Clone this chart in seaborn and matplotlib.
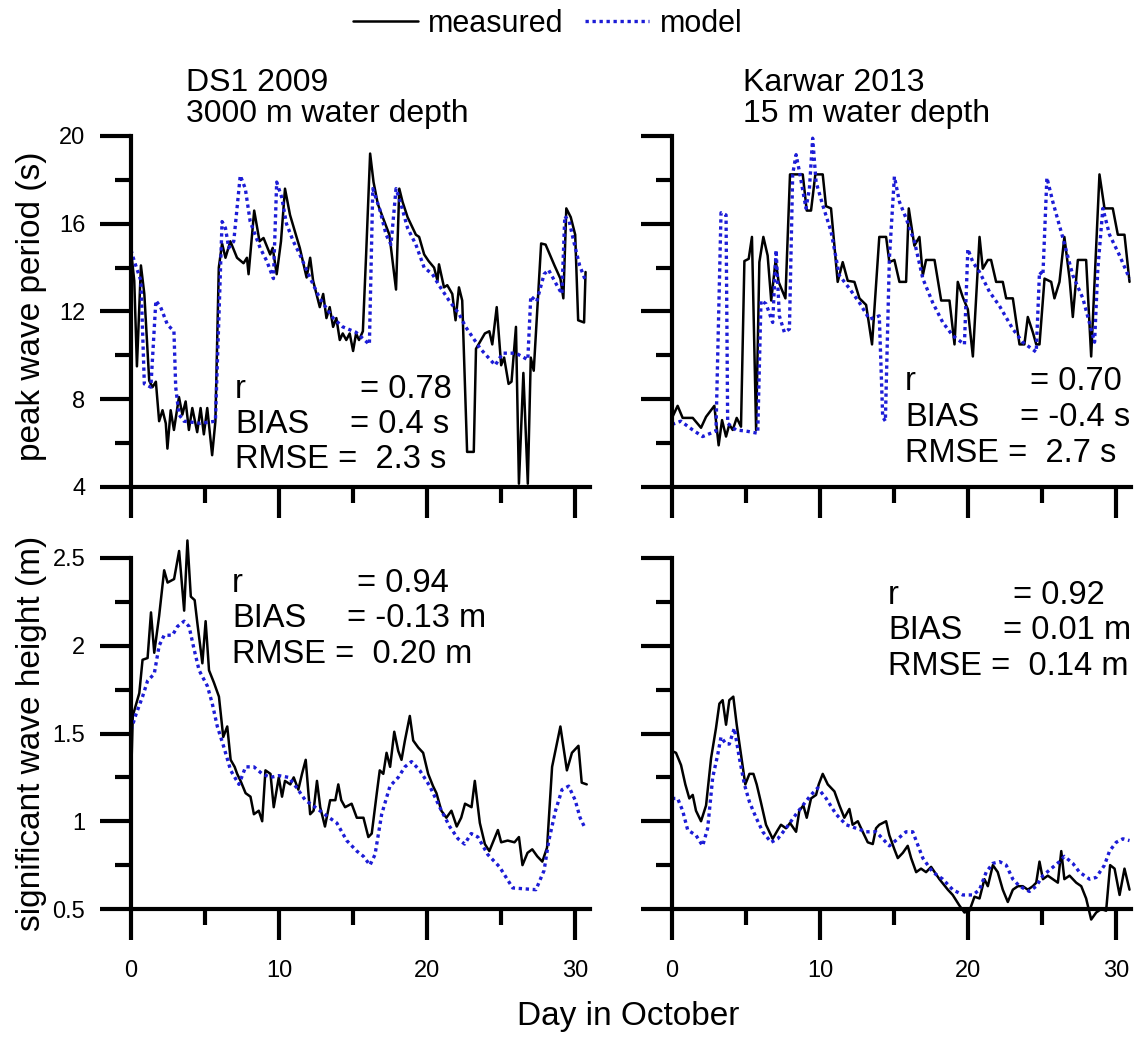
import pandas as pd
import seaborn as sns
import matplotlib.pyplot as plt
from matplotlib.ticker import MultipleLocator, FormatStrFormatter
from matplotlib.lines import Line2D

# ---- data ----
# DS1 2009, peak wave period (s)
ds1_tp_meas_days = [0.0, 0.22, 0.40, 0.56, 0.67, 0.9, 1.23, 1.45, 1.68, 1.9, 2.13, 2.35, 2.46, 2.68, 2.9,
                    3.24, 3.47, 3.69, 3.91, 4.14, 4.47, 4.7, 4.92, 5.15, 5.48, 5.7, 5.93, 6.15, 6.38, 6.71,
                    7.16, 7.6, 7.83, 7.94, 8.32, 8.68, 8.95, 9.4, 9.57, 9.84, 10.13, 10.4, 10.74, 11.2, 11.4,
                    11.86, 12.1, 12.3, 12.75, 12.98, 13.2, 13.42, 13.65, 13.87, 14.1, 14.3, 14.54, 14.77, 15.0,
                    15.2, 15.4, 15.66, 15.88, 16.15, 16.38, 16.67, 17.0, 17.45, 17.9, 18.12, 18.34, 18.68,
                    19.24, 19.46, 19.8, 20.1, 20.47, 20.7, 20.8, 21.14, 21.36, 21.7, 21.92, 22.15, 22.37,
                    22.7, 23.15, 23.3, 23.9, 24.2, 24.4, 24.7, 25.0, 25.2, 25.5, 25.7, 26.0, 26.2, 26.5,
                    26.8, 27.0, 27.2, 27.7, 28.0, 28.6, 29.0, 29.2, 29.4, 29.7, 30.0, 30.2, 30.6, 30.7]
ds1_tp_meas = [14.8, 13.4, 9.5, 12.2, 14.1, 12.8, 8.85, 8.55, 8.8, 7.0, 7.5, 6.9, 5.75, 7.5, 6.6,
               8.1, 7.3, 7.9, 6.6, 7.6, 6.5, 7.6, 6.4, 7.6, 5.45, 7.0, 14.0, 15.1, 14.45, 15.2,
               14.45, 14.2, 14.45, 13.7, 16.6, 15.2, 15.35, 14.6, 14.9, 13.7, 15.2, 17.6, 16.4, 15.35, 14.9,
               13.55, 14.45, 13.4, 12.2, 12.8, 11.7, 12.2, 11.3, 11.7, 10.7, 11.0, 10.7, 11.0, 10.2,
               11.0, 10.7, 11.1, 14.6, 19.2, 17.9, 16.9, 16.3, 15.5, 13.0, 17.6, 17.0, 16.3,
               15.5, 15.4, 14.6, 14.3, 14.0, 13.4, 14.15, 13.1, 13.2, 12.8, 11.6, 13.1, 12.5,
               5.6, 5.6, 10.3, 11.0, 11.1, 10.5, 12.2, 9.55, 9.9, 8.7, 8.8, 11.3, 4.15, 9.2,
               4.15, 9.9, 9.3, 15.1, 15.05, 14.1, 13.5, 12.6, 16.7, 16.3, 15.5, 11.6, 11.5, 13.8]
ds1_tp_model_days = [0.0, 0.22, 0.67, 0.9, 1.34, 1.68, 2.0, 2.46, 2.9, 3.02, 3.24, 3.58, 4.7, 5.7, 5.93,
                     6.15, 6.38, 6.6, 6.94, 7.38, 7.72, 8.05, 8.72, 9.17, 9.62, 9.84, 10.18, 10.5, 10.96,
                     11.4, 12.08, 12.75, 13.65, 14.3, 15.2, 16.1, 16.33, 16.78, 17.23, 17.56, 17.9, 18.23,
                     18.68, 19.24, 19.8, 20.36, 20.8, 21.48, 22.15, 22.6, 23.6, 24.6, 25.1, 26.0, 26.8,
                     27.0, 27.4, 27.9, 28.2, 28.8, 29.1, 29.3, 29.6, 29.9, 30.3, 30.7]
ds1_tp_model = [14.8, 14.3, 13.4, 8.7, 8.55, 12.5, 12.2, 11.4, 11.1, 8.55, 7.3, 7.0, 6.9, 7.0, 11.6,
                16.1, 15.8, 14.9, 15.2, 18.2, 17.6, 16.1, 14.9, 14.3, 13.5, 17.9, 17.2, 16.0, 15.2,
                14.6, 13.55, 12.6, 11.7, 11.3, 11.05, 10.5, 17.6, 16.7, 15.5, 15.05, 17.6, 16.9,
                15.8, 15.05, 14.0, 13.7, 13.2, 12.5, 11.9, 11.3, 10.3, 9.55, 10.1, 10.1, 9.8,
                12.7, 12.45, 13.7, 13.9, 13.15, 12.8, 16.35, 16.1, 15.2, 14.1, 13.4]

# Karwar 2013, peak wave period (s)
kar_tp_meas_days = [0.0, 0.38, 0.72, 1.4, 1.96, 2.3, 2.86, 3.15, 3.38, 3.65, 3.87, 4.1, 4.37, 4.66, 4.89,
                    5.18, 5.4, 5.68, 5.9, 6.17, 6.46, 6.7, 7.0, 7.2, 7.66, 7.97, 8.83, 9.1, 9.39, 9.68,
                    10.18, 10.4, 10.74, 11.19, 11.53, 11.87, 12.32, 12.66, 13.11, 13.51, 14.0, 14.46,
                    14.68, 15.02, 15.36, 15.81, 15.99, 16.37, 16.71, 16.94, 17.16, 17.73, 18.18, 18.74,
                    19.08, 19.3, 19.64, 19.98, 20.32, 20.77, 20.99, 21.33, 21.55, 21.89, 22.34, 22.57,
                    23.02, 23.47, 23.8, 24.03, 24.37, 24.6, 24.82, 25.16, 25.61, 25.83, 26.17, 26.5,
                    26.85, 27.07, 27.41, 27.97, 28.31, 28.87, 29.21, 29.77, 30.11, 30.56, 30.9]
kar_tp_meas = [7.15, 7.7, 7.15, 7.15, 6.7, 7.2, 7.7, 5.9, 7.05, 6.3, 6.85, 6.6, 7.15, 6.75, 14.3,
               14.4, 15.4, 6.6, 14.25, 15.4, 14.55, 12.5, 14.35, 13.35, 12.6, 18.25, 18.25, 16.6, 16.6, 18.25,
               18.25, 16.8, 16.7, 13.35, 14.25, 13.4, 13.35, 12.6, 12.3, 10.5, 15.4, 15.4,
               14.25, 14.35, 13.35, 13.35, 16.7, 15.0, 15.4, 13.65, 14.35, 14.35, 12.5, 12.5,
               10.5, 13.35, 12.65, 12.1, 9.95, 15.4, 13.95, 14.35, 14.35, 13.35, 13.35, 12.6,
               12.6, 10.5, 10.5, 11.75, 11.05, 10.5, 10.5, 13.5, 13.35, 12.6, 13.35, 15.4,
               13.5, 11.75, 14.35, 14.35, 9.95, 18.25, 16.7, 16.7, 15.5, 15.5, 13.35]
kar_tp_model_days = [0.0, 0.6, 1.4, 2.07, 2.97, 3.31, 3.65, 3.76, 4.32, 5.0, 5.79, 6.01, 6.35, 6.8, 7.03,
                     7.25, 7.59, 7.93, 8.15, 8.38, 8.6, 9.05, 9.28, 9.5, 9.73, 10.18, 10.74, 11.3, 11.98,
                     12.66, 13.33, 14.0, 14.23, 14.41, 14.68, 15.02, 15.36, 15.81, 16.37, 16.94, 17.61,
                     18.29, 18.96, 19.75, 19.98, 20.32, 20.77, 21.44, 22.12, 23.02, 23.69, 24.6, 24.82,
                     25.05, 25.32, 25.72, 26.4, 27.07, 27.75, 28.54, 28.76, 29.1, 29.55, 30.23, 30.9]
kar_tp_model = [6.85, 7.0, 6.6, 6.3, 6.55, 16.5, 16.4, 6.9, 6.6, 6.55, 6.45, 12.5, 12.35, 11.5, 14.8,
                11.8, 11.05, 11.2, 18.25, 19.15, 18.4, 16.7, 17.6, 19.9, 17.9, 16.85, 15.65, 13.65, 13.05,
                12.4, 11.65, 11.8, 7.2, 7.0, 14.4, 18.15, 17.0, 16.25, 15.2, 13.5, 12.4,
                11.5, 10.9, 10.5, 14.85, 14.25, 13.8, 12.9, 12.25, 11.2, 10.6, 10.15, 13.8,
                13.65, 18.1, 17.0, 15.35, 13.65, 12.6, 10.6, 13.95, 16.7, 15.5, 14.55, 13.5]

# DS1 2009, significant wave height (m)
ds1_hs_meas_days = [0.0, 0.12, 0.22, 0.56, 0.78, 1.12, 1.35, 1.57, 1.9, 2.24, 2.47, 2.91, 3.25, 3.59, 3.81,
                    4.04, 4.3, 4.48, 4.82, 5.04, 5.27, 5.6, 5.94, 6.23, 6.5, 6.73, 7.0, 7.17, 7.4, 7.74,
                    8.07, 8.3, 8.63, 8.86, 9.08, 9.42, 9.64, 9.98, 10.2, 10.4, 10.76, 10.99, 11.3, 11.55,
                    11.8, 12.1, 12.33, 12.56, 12.78, 13.1, 13.45, 13.8, 14.0, 14.2, 14.46, 14.9, 15.25,
                    15.7, 16.03, 16.26, 16.6, 16.8, 17.04, 17.26, 17.5, 17.78, 18.05, 18.27, 18.5, 18.83,
                    19.06, 19.4, 19.73, 20.07, 20.4, 20.63, 20.96, 21.3, 21.64, 22.0, 22.3, 22.56, 23.0,
                    23.22, 23.56, 23.9, 24.2, 24.78, 25.0, 25.44, 25.9, 26.2, 26.44, 26.78, 27.1, 27.44,
                    27.78, 28.1, 28.44, 29.0, 29.44, 29.78, 30.22, 30.44, 30.78]
ds1_hs_meas = [1.22, 1.6, 1.63, 1.73, 1.92, 1.93, 2.19, 1.96, 2.17, 2.43, 2.36, 2.38, 2.54, 2.2, 2.6,
               2.28, 2.26, 2.13, 1.9, 2.14, 1.86, 1.79, 1.71, 1.48, 1.54, 1.35, 1.31, 1.27, 1.23, 1.16,
               1.14, 1.04, 1.06, 1.0, 1.29, 1.27, 1.08, 1.25, 1.14, 1.23, 1.21, 1.25, 1.18, 1.27,
               1.35, 1.04, 1.06, 1.23, 1.08, 0.97, 1.12, 1.12, 1.21, 1.12, 1.08, 1.1, 1.02,
               1.02, 0.91, 0.93, 1.16, 1.29, 1.27, 1.39, 1.31, 1.51, 1.4, 1.35, 1.46, 1.6,
               1.46, 1.42, 1.39, 1.27, 1.2, 1.16, 1.06, 1.02, 1.06, 0.97, 1.02, 1.1, 1.08,
               1.23, 0.99, 0.87, 0.83, 0.95, 0.88, 0.89, 0.88, 0.91, 0.75, 0.82, 0.84, 0.8,
               0.77, 0.85, 1.31, 1.54, 1.29, 1.39, 1.43, 1.22, 1.21]
ds1_hs_model_days = [0.0, 0.34, 0.78, 1.12, 1.57, 1.9, 2.24, 2.8, 3.14, 3.59, 3.92, 4.26, 4.6, 5.16, 5.49,
                     5.83, 6.28, 6.73, 7.29, 7.74, 8.3, 8.86, 9.42, 9.98, 10.65, 11.2, 11.77, 12.44,
                     13.23, 13.9, 14.57, 15.25, 15.7, 16.14, 16.48, 16.93, 17.49, 18.05, 18.5, 18.95,
                     19.5, 20.18, 20.85, 21.52, 22.09, 22.53, 22.98, 23.43, 24.1, 24.89, 25.78, 27.35,
                     27.9, 28.22, 28.67, 29.11, 29.56, 30.0, 30.33, 30.67]
ds1_hs_model = [1.52, 1.61, 1.71, 1.8, 1.84, 2.0, 2.06, 2.06, 2.11, 2.14, 2.11, 1.98, 1.86, 1.77, 1.67,
                1.54, 1.42, 1.29, 1.21, 1.31, 1.31, 1.27, 1.25, 1.26, 1.25, 1.19, 1.12, 1.08,
                1.03, 0.99, 0.89, 0.83, 0.8, 0.75, 0.81, 1.04, 1.2, 1.25, 1.31, 1.34,
                1.29, 1.2, 1.08, 0.97, 0.9, 0.87, 0.93, 0.91, 0.81, 0.74, 0.62, 0.61,
                0.72, 0.89, 1.06, 1.18, 1.2, 1.12, 1.02, 0.96]

# Karwar 2013, significant wave height (m)
kar_hs_meas_days = [0.0, 0.27, 0.61, 0.9, 1.17, 1.4, 1.62, 1.96, 2.3, 2.64, 2.97, 3.2, 3.42, 3.65, 3.87,
                    4.14, 4.37, 4.66, 4.95, 5.23, 5.5, 5.72, 6.0, 6.35, 6.8, 7.14, 7.36, 7.7, 7.97, 8.38,
                    8.6, 8.87, 9.1, 9.39, 9.73, 9.91, 10.18, 10.52, 10.97, 11.31, 11.64, 11.98, 12.2,
                    12.55, 12.88, 13.22, 13.56, 13.78, 14.0, 14.46, 14.68, 15.02, 15.25, 15.59, 15.92,
                    16.15, 16.49, 16.82, 17.16, 17.5, 18.06, 18.63, 18.96, 19.41, 19.75, 20.09, 20.43,
                    20.77, 21.1, 21.33, 21.67, 22.0, 22.34, 22.68, 23.02, 23.36, 23.69, 24.03, 24.37,
                    24.6, 24.82, 25.05, 25.38, 25.72, 26.06, 26.29, 26.5, 26.85, 27.3, 27.64, 27.97,
                    28.31, 28.65, 28.99, 29.32, 29.59, 29.89, 30.23, 30.56, 30.9]
kar_hs_meas = [1.4, 1.39, 1.32, 1.21, 1.13, 1.15, 1.06, 1.0, 1.09, 1.36, 1.53, 1.67, 1.69, 1.55, 1.69,
               1.71, 1.55, 1.38, 1.21, 1.27, 1.27, 1.21, 1.11, 0.98, 0.9, 0.95, 0.98, 0.96, 0.99, 0.94,
               1.06, 1.09, 1.02, 1.13, 1.15, 1.21, 1.27, 1.21, 1.17, 1.09, 1.02, 1.07, 0.98,
               1.0, 0.94, 0.88, 0.87, 0.96, 0.98, 1.0, 0.92, 0.84, 0.79, 0.82, 0.86,
               0.79, 0.71, 0.73, 0.71, 0.74, 0.67, 0.61, 0.58, 0.52, 0.48, 0.49, 0.57,
               0.56, 0.67, 0.63, 0.75, 0.71, 0.61, 0.54, 0.61, 0.63, 0.63, 0.61, 0.63,
               0.65, 0.77, 0.67, 0.69, 0.67, 0.65, 0.83, 0.67, 0.69, 0.65, 0.63, 0.56,
               0.44, 0.48, 0.5, 0.49, 0.75, 0.73, 0.58, 0.73, 0.61]
kar_hs_model_days = [0.0, 0.38, 0.72, 1.06, 1.62, 2.07, 2.41, 2.75, 3.09, 3.31, 3.65, 3.87, 4.21, 4.55, 4.89,
                     5.23, 5.68, 6.13, 6.69, 7.14, 7.7, 8.38, 8.83, 9.39, 9.84, 10.41, 11.08, 11.76, 12.43,
                     13.11, 13.78, 14.68, 15.25, 15.81, 16.26, 16.94, 17.61, 18.29, 18.96, 19.64, 20.32,
                     20.77, 21.22, 21.67, 22.12, 22.57, 23.02, 23.47, 24.14, 24.6, 25.05, 25.61, 26.17,
                     26.5, 27.07, 27.52, 28.2, 28.65, 29.21, 29.55, 30.0, 30.45, 30.9]
kar_hs_model = [1.13, 1.13, 1.06, 0.95, 0.92, 0.86, 0.96, 1.25, 1.38, 1.48, 1.44, 1.44, 1.53, 1.36, 1.21,
                1.11, 1.02, 0.94, 0.88, 0.9, 0.96, 1.04, 1.09, 1.15, 1.19, 1.13, 1.04, 0.98, 0.96,
                0.94, 0.94, 0.86, 0.9, 0.94, 0.94, 0.79, 0.71, 0.67, 0.61, 0.58, 0.58,
                0.61, 0.71, 0.76, 0.77, 0.75, 0.67, 0.63, 0.6, 0.63, 0.69, 0.73, 0.77,
                0.8, 0.76, 0.71, 0.67, 0.68, 0.75, 0.83, 0.88, 0.9, 0.89]

site_titles = {'DS1': ['DS1 2009', '3000 m water depth'],
               'Karwar': ['Karwar 2013', '15 m water depth']}
stat_labels = ['r', 'BIAS', 'RMSE']
stat_values = {('DS1', 'tp'): ['= 0.78', '= 0.4 s', '=  2.3 s'],
               ('Karwar', 'tp'): ['= 0.70', '= -0.4 s', '=  2.7 s'],
               ('DS1', 'hs'): ['= 0.94', '= -0.13 m', '=  0.20 m'],
               ('Karwar', 'hs'): ['= 0.92', '= 0.01 m', '=  0.14 m']}


def make_frame(site, var, source, days, vals):
    return pd.DataFrame({'site': site, 'var': var, 'source': source, 'day': days, 'value': vals})


df = pd.concat([
    make_frame('DS1', 'tp', 'measured', ds1_tp_meas_days, ds1_tp_meas),
    make_frame('DS1', 'tp', 'model', ds1_tp_model_days, ds1_tp_model),
    make_frame('Karwar', 'tp', 'measured', kar_tp_meas_days, kar_tp_meas),
    make_frame('Karwar', 'tp', 'model', kar_tp_model_days, kar_tp_model),
    make_frame('DS1', 'hs', 'measured', ds1_hs_meas_days, ds1_hs_meas),
    make_frame('DS1', 'hs', 'model', ds1_hs_model_days, ds1_hs_model),
    make_frame('Karwar', 'hs', 'measured', kar_hs_meas_days, kar_hs_meas),
    make_frame('Karwar', 'hs', 'model', kar_hs_model_days, kar_hs_model),
], ignore_index=True)

# ---- figure ----
W, H = 1146, 1038
sns.set_style('ticks')
plt.rcParams['font.family'] = ['Liberation Sans', 'DejaVu Sans']
plt.rcParams.update({'text.color': 'black', 'axes.edgecolor': 'black', 'axes.labelcolor': 'black',
                     'xtick.color': 'black', 'ytick.color': 'black'})

BLUE = '#1c1cd6'
DOTS = (0, (1, 1.1))
fig = plt.figure(figsize=(W / 100, H / 100), dpi=100)


def px(x, y):
    # pixel position (from top-left) -> figure fraction
    return x / W, 1 - y / H


aw, ah = 459 / W, 351 / H
lefts = {'DS1': 131 / W, 'Karwar': 672 / W}
bottoms = {'tp': 1 - 487 / H, 'hs': 1 - 909 / H}
ylims = {'tp': (4, 20, 4, 2), 'hs': (0.5, 2.5, 0.5, 0.25)}

# stats text placement (pixels): label x, baselines, "=" x for the first two lines
stat_pos = {('DS1', 'tp'): (235, [398, 433, 468], [360, 350]),
            ('Karwar', 'tp'): (905, [390, 426, 462], [1030, 1020]),
            ('DS1', 'hs'): (232, [592, 627, 663], [357, 347]),
            ('Karwar', 'hs'): (888, [604, 639, 675], [1013, 1003])}

for site in ['DS1', 'Karwar']:
    for var in ['tp', 'hs']:
        ax = fig.add_axes([lefts[site], bottoms[var], aw, ah])
        sub = df[(df['site'] == site) & (df['var'] == var)]
        sns.lineplot(data=sub[sub['source'] == 'measured'], x='day', y='value', color='black',
                     linewidth=1.8, estimator=None, sort=False, ax=ax, clip_on=False)
        sns.lineplot(data=sub[sub['source'] == 'model'], x='day', y='value', color=BLUE,
                     linewidth=2.4, linestyle=DOTS, estimator=None, sort=False, ax=ax, clip_on=False)

        ymin, ymax, ymaj, ymin_step = ylims[var]
        ax.set_xlim(0, 31)
        ax.set_ylim(ymin, ymax)
        ax.set_xlabel('')
        ax.set_ylabel('')
        sns.despine(ax=ax)
        for s in ['left', 'bottom']:
            ax.spines[s].set_linewidth(3)
        ax.xaxis.set_major_locator(MultipleLocator(10))
        ax.xaxis.set_minor_locator(MultipleLocator(5))
        ax.yaxis.set_major_locator(MultipleLocator(ymaj))
        ax.yaxis.set_minor_locator(MultipleLocator(ymin_step))
        ax.yaxis.set_major_formatter(FormatStrFormatter('%g'))
        ax.tick_params(which='major', direction='out', length=22, width=3, labelsize=17)
        ax.tick_params(which='minor', direction='out', length=11.5, width=3)
        ax.tick_params(axis='y', pad=11)
        ax.tick_params(axis='x', pad=15)
        if site == 'Karwar':
            ax.tick_params(axis='y', labelleft=False)
        if var == 'tp':
            ax.tick_params(axis='x', labelbottom=False)

        lx, bases, eqx = stat_pos[(site, var)]
        vals = stat_values[(site, var)]
        for i in range(2):
            fig.text(*px(lx, bases[i]), stat_labels[i], fontsize=23.5, va='baseline', ha='left')
            fig.text(*px(eqx[i], bases[i]), vals[i], fontsize=23.5, va='baseline', ha='left')
        fig.text(*px(lx, bases[2]), stat_labels[2] + ' ' + vals[2], fontsize=23.5,
                 va='baseline', ha='left')

# panel titles
for site, x0 in [('DS1', 186), ('Karwar', 743)]:
    for line, yb in zip(site_titles[site], [91, 122]):
        fig.text(*px(x0, yb), line, fontsize=23, va='baseline', ha='left')

# axis labels
fig.text(*px(32, 306), 'peak wave period (s)', rotation=90, fontsize=24, va='center', ha='center')
fig.text(*px(32, 733), 'significant wave height (m)', rotation=90, fontsize=24, va='center', ha='center')
fig.text(*px(628, 1025), 'Day in October', fontsize=24, va='baseline', ha='center')

# legend
handles = [Line2D([], [], color='black', linewidth=1.8),
           Line2D([], [], color=BLUE, linewidth=2.4, linestyle=DOTS)]
fig.legend(handles, ['measured', 'model'], loc='center', bbox_to_anchor=px(548, 24), ncol=2,
           frameon=False, fontsize=22, handlelength=2.1, handletextpad=0.35, columnspacing=0.7)

fig.savefig('out.png', dpi=100)
plt.close(fig)
